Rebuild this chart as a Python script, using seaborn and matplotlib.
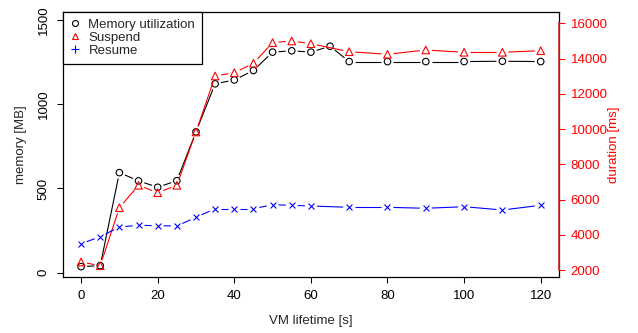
import numpy as np
import pandas as pd
import matplotlib
matplotlib.use("Agg")
import matplotlib.pyplot as plt
import seaborn as sns

# ---------------- data ----------------
mem_time = [0, 5, 10, 15, 20, 25, 30, 35, 40, 45, 50, 55, 60, 65, 70, 80, 90, 100, 110, 120]
memory_mb = [36, 42, 594, 545, 507, 546, 836, 1121, 1144, 1200, 1309, 1317, 1309, 1344,
             1253, 1253, 1253, 1253, 1255, 1253]

dur_time = [0, 5, 10, 15, 20, 25, 30, 35, 40, 45, 50, 55, 60, 70, 80, 90, 100, 110, 120]
suspend_ms = [2454, 2244, 5536, 6807, 6387, 6807, 9832, 13010, 13198, 13731, 14900, 14997,
              14843, 14389, 14242, 14486, 14355, 14355, 14446]
resume_ms = [3493, 3890, 4440, 4537, 4514, 4497, 4991, 5479, 5479, 5479, 5706, 5672,
             5632, 5558, 5558, 5502, 5593, 5405, 5672]

x_ticks = [0, 20, 40, 60, 80, 100, 120]
mem_ticks = [0, 500, 1000, 1500]
dur_ticks = [2000, 4000, 6000, 8000, 10000, 12000, 14000, 16000]
legend_labels = ["Memory utilization", "Suspend", "Resume"]

# ---------------- style ----------------
sns.set_theme(style="ticks")
plt.rcParams["font.family"] = ["Liberation Sans", "DejaVu Sans"]
FS = 9.5

W, H = 638, 333
fig = plt.figure(figsize=(W / 100, H / 100), dpi=100)
L, R, T, B = 62.7, 558.7, 11.7, 277.3
ax = fig.add_axes([L / W, 1 - B / H, (R - L) / W, (B - T) / H])
ax2 = ax.twinx()

ax.set_xlim(-4.8, 124.7)
ax.set_ylim(-27.3, 1549)
ax2.set_ylim(1586, 16658)

mem_df = pd.DataFrame({"t": mem_time, "v": memory_mb})
dur_df = pd.DataFrame({"t": dur_time, "s": suspend_ms, "r": resume_ms})


def gapped(axis, xs, ys, color, gap=6.0, lw=0.8):
    trans = axis.transData
    pts = trans.transform(np.column_stack([xs, ys]))
    inv = trans.inverted()
    for p0, p1 in zip(pts[:-1], pts[1:]):
        d = p1 - p0
        n = np.hypot(*d)
        if n <= 2 * gap:
            continue
        q0 = p0 + d * gap / n
        q1 = p1 - d * gap / n
        seg = inv.transform(np.vstack([q0, q1]))
        axis.plot(seg[:, 0], seg[:, 1], color=color, lw=lw, solid_capstyle="butt")


gapped(ax, mem_time, memory_mb, "black")
gapped(ax2, dur_time, suspend_ms, "red")
gapped(ax2, dur_time, resume_ms, "blue")

sns.scatterplot(data=mem_df, x="t", y="v", ax=ax, marker="o", s=22,
                facecolor="none", edgecolor="black", linewidth=0.8, legend=False)
sns.scatterplot(data=dur_df, x="t", y="s", ax=ax2, marker="^", s=30,
                facecolor="none", edgecolor="red", linewidth=0.8, legend=False)
sns.scatterplot(data=dur_df, x="t", y="r", ax=ax2, marker="x", s=18,
                color="blue", linewidth=0.8, legend=False)

ax.set_xlabel("")
ax.set_ylabel("")
ax2.set_xlabel("")
ax2.set_ylabel("")

# ticks
ax.set_xticks(x_ticks)
ax.set_xticklabels([str(v) for v in x_ticks], fontsize=FS)
ax.set_yticks(mem_ticks)
ax.set_yticklabels([str(v) for v in mem_ticks], fontsize=FS, rotation=90, va="center")
ax.tick_params(axis="both", direction="out", length=4.5, width=0.75, color="black",
               labelcolor="black")
ax.tick_params(axis="x", pad=4.5)
ax.tick_params(axis="y", pad=5)

ax2.set_yticks(dur_ticks)
ax2.set_yticklabels([str(v) for v in dur_ticks], fontsize=FS)
ax2.tick_params(axis="y", direction="out", length=4.5, width=0.75, color="red",
                labelcolor="red", pad=4)

for sp in ax.spines.values():
    sp.set_visible(True)
    sp.set_color("black")
    sp.set_linewidth(0.9)
for name, sp in ax2.spines.items():
    sp.set_visible(name == "right")
sp = ax2.spines["right"]
sp.set_color("#d02828")
sp.set_linewidth(1.2)
sp.set_bounds(2000, 16000)

# axis labels
fig.text((L + R) / 2 / W, 1 - 321 / H, "VM lifetime [s]", ha="center", va="center", fontsize=FS)
fig.text(21 / W, 1 - 145 / H, "memory [MB]", ha="center", va="center", rotation=90, fontsize=FS)
fig.text(614 / W, 1 - 145 / H, "duration [ms]", ha="center", va="center", rotation=90,
         fontsize=FS, color="red")

# legend
from matplotlib.lines import Line2D
handles = [
    Line2D([], [], ls="", marker="o", ms=4.3, mfc="none", mec="black", mew=0.8),
    Line2D([], [], ls="", marker="^", ms=5, mfc="none", mec="red", mew=0.8),
    Line2D([], [], ls="", marker="+", ms=6, color="blue", mew=0.8),
]
leg = ax2.legend(handles, legend_labels, loc="upper left", bbox_to_anchor=(0, 1),
                 borderaxespad=0, fancybox=False, framealpha=1, edgecolor="black",
                 fontsize=FS, handlelength=0.9, handletextpad=0.55, borderpad=0.5,
                 labelspacing=0.08)
leg.get_frame().set_linewidth(0.9)

fig.savefig("out.png", dpi=100)
